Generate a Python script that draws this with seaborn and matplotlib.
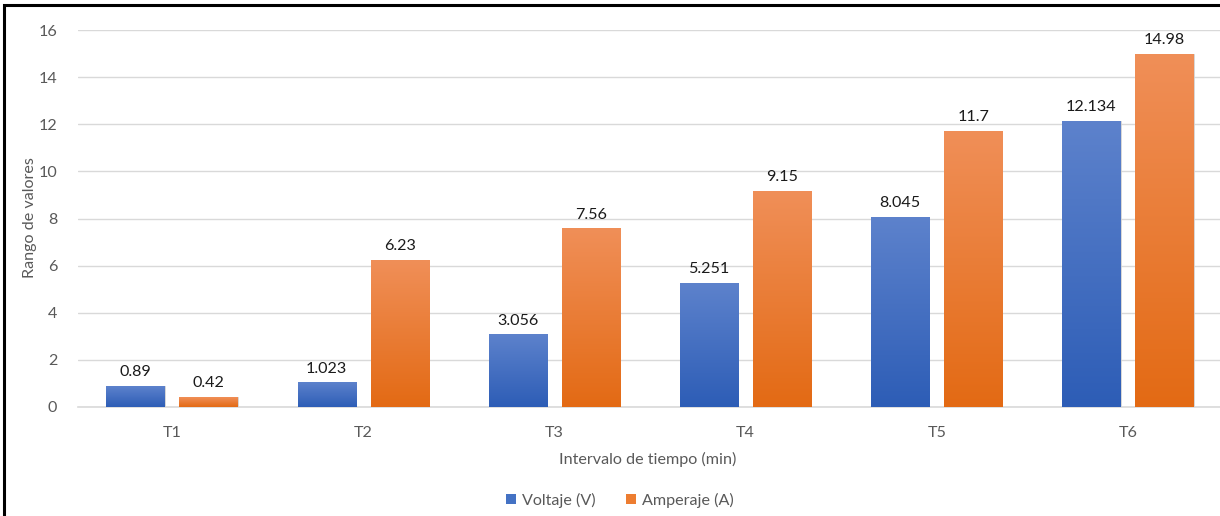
import numpy as np
import pandas as pd
import matplotlib
matplotlib.use("Agg")
import matplotlib.pyplot as plt
from matplotlib.colors import LinearSegmentedColormap
from matplotlib.patches import Rectangle
import seaborn as sns

# Data
categories = ["T1", "T2", "T3", "T4", "T5", "T6"]
voltaje = [0.89, 1.023, 3.056, 5.251, 8.045, 12.134]
amperaje = [0.42, 6.23, 7.56, 9.15, 11.7, 14.98]
series_names = ["Voltaje (V)", "Amperaje (A)"]
y_ticks = [0, 2, 4, 6, 8, 10, 12, 14, 16]

df = pd.DataFrame({
    "Intervalo": categories * 2,
    "Valor": voltaje + amperaje,
    "Serie": [series_names[0]] * len(categories) + [series_names[1]] * len(categories),
})

sns.set_theme(style="white")
plt.rcParams["font.family"] = ["Lato", "DejaVu Sans"]

W, H = 1220, 516
FS = 11.6
fig = plt.figure(figsize=(W / 100, H / 100), dpi=100)
ax = fig.add_axes([78 / W, 1 - 407 / H, (W - 78) / W, (407 - 30) / H])

base_colors = {series_names[0]: "#4472c4", series_names[1]: "#ed7d31"}
sns.barplot(data=df, x="Intervalo", y="Valor", hue="Serie", palette=base_colors,
            width=0.764, gap=0.205, ax=ax, legend=False, zorder=3)

# Vertical gradient fill for each bar (lighter top, darker bottom)
grad_maps = [
    LinearSegmentedColormap.from_list("blue_grad", ["#2d5db6", "#5d82cc"]),
    LinearSegmentedColormap.from_list("orange_grad", ["#e36a14", "#f08f58"]),
]
grad = np.linspace(0, 1, 256).reshape(-1, 1)
bars = list(ax.patches)
n = len(categories)
for i, bar in enumerate(bars):
    cmap = grad_maps[i // n]
    x0, y0 = bar.get_x(), bar.get_y()
    w, h = bar.get_width(), bar.get_height()
    ax.imshow(grad, extent=[x0, x0 + w, y0, y0 + h], origin="lower",
              aspect="auto", cmap=cmap, zorder=3.5, interpolation="bicubic")
    bar.set_facecolor("none")
    bar.set_edgecolor("#d0d0d0")
    bar.set_linewidth(0.6)

# Value labels
values = voltaje + amperaje
for bar, v in zip(bars, values):
    ax.annotate(f"{v:g}", (bar.get_x() + bar.get_width() / 2, bar.get_height()),
                xytext=(0, 5), textcoords="offset points", ha="center", va="bottom",
                fontsize=FS, color="#1a1a1a")

spacing = 191.2
ax.set_xlim(-(172 - 78) / spacing, (W - 172) / spacing)
ax.set_ylim(0, 16)
ax.set_yticks(y_ticks)
ax.set_yticklabels([str(t) for t in y_ticks])
ax.yaxis.grid(True, color="#d9d9d9", linewidth=1, zorder=0)
ax.set_axisbelow(True)
for s in ["top", "right", "left"]:
    ax.spines[s].set_visible(False)
ax.spines["bottom"].set_color("#d9d9d9")
ax.spines["bottom"].set_linewidth(1.2)
ax.tick_params(axis="both", length=0, labelsize=FS, labelcolor="#595959")
ax.tick_params(axis="y", pad=15)
ax.tick_params(axis="x", pad=14)

ax.set_xlabel("Intervalo de tiempo (min)", fontsize=FS, color="#595959")
ax.set_ylabel("Rango de valores", fontsize=FS, color="#595959")
ax.xaxis.set_label_coords((648 - 78) / (W - 78), -(452 - 407) / (407 - 30))
ax.yaxis.set_label_coords(-(78 - 37) / (W - 78), (407 - 218) / (407 - 30))

# Legend
handles = [Rectangle((0, 0), 1, 1, facecolor=base_colors[s], edgecolor="none") for s in series_names]
fig.legend(handles, series_names, loc="center", bbox_to_anchor=(620 / W, 1 - 500 / H),
           ncol=2, frameon=False, fontsize=FS, handlelength=0.62, handleheight=0.62,
           handletextpad=0.35, columnspacing=1.9, labelcolor="#595959")

# Outer frame (top and left edges visible)
fig.patches.append(Rectangle((3.5 / W, -0.2), 1.5, 1.2 - 5 / H, transform=fig.transFigure,
                             fill=False, edgecolor="black", linewidth=2.2))

fig.savefig("out.png", dpi=100, facecolor="white")
